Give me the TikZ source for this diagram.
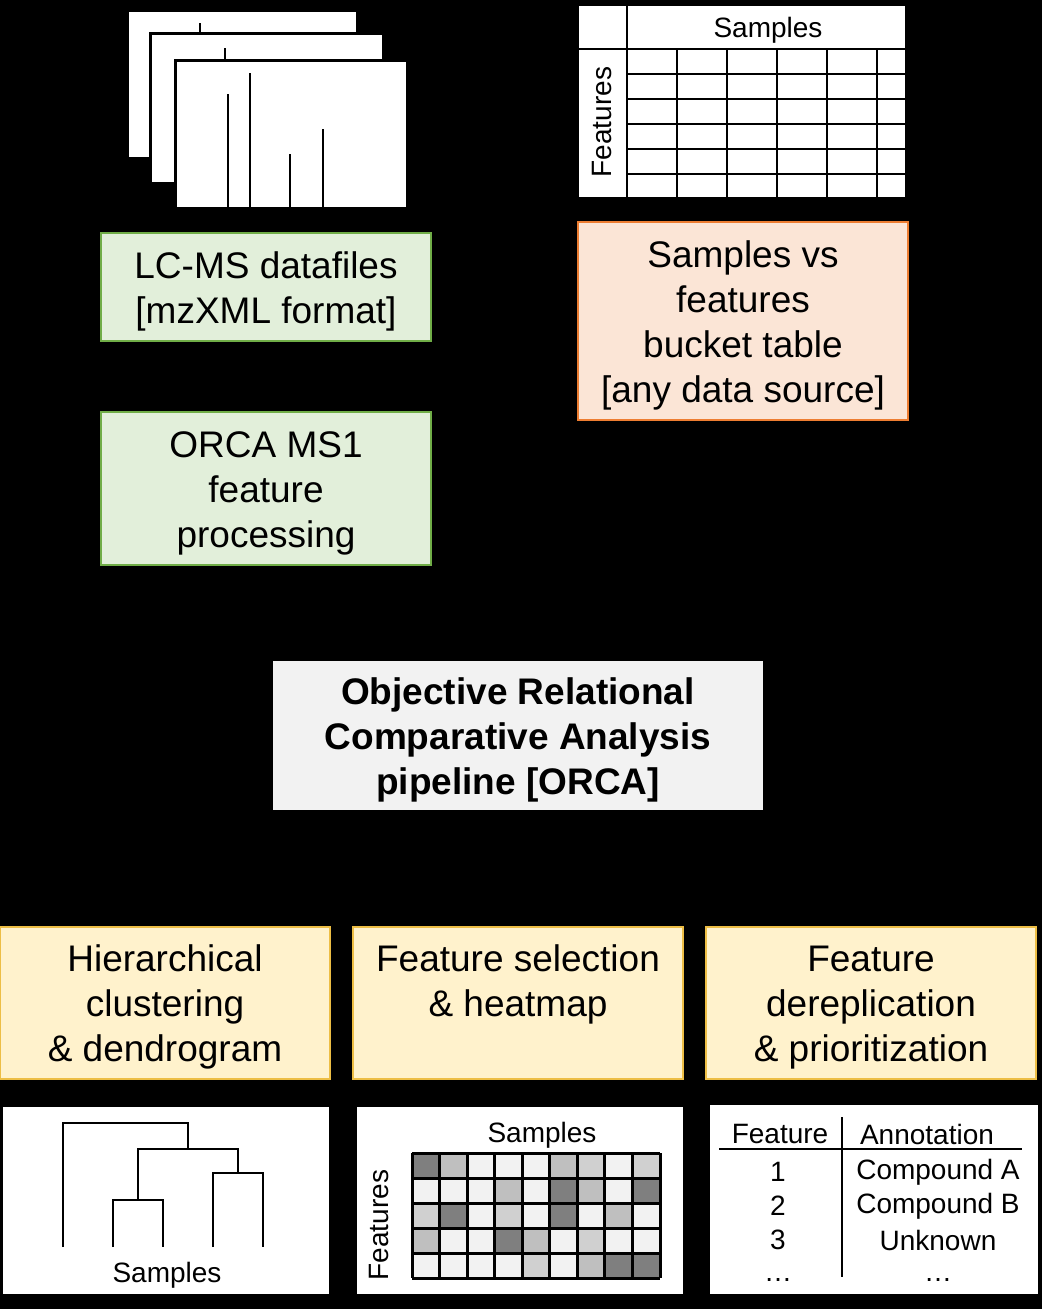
\documentclass[tikz,border=0pt]{standalone}
\usepackage{fontspec}
\setmainfont{Liberation Sans}
\usepackage{xcolor}
\usepackage{tikz}
\usetikzlibrary{arrows.meta}

\definecolor{lcgreen}{HTML}{70AD47}
\definecolor{lcgreenfill}{HTML}{E2EFDA}
\definecolor{tborange}{HTML}{ED7D31}
\definecolor{tborangefill}{HTML}{FBE5D6}
\definecolor{outgold}{HTML}{EDBE45}
\definecolor{outgoldfill}{HTML}{FFF2CC}
\definecolor{pipegray}{HTML}{F2F2F2}
\definecolor{hmdk}{HTML}{7F7F7F}
\definecolor{hmmd}{HTML}{BFBFBF}
\definecolor{hmlt}{HTML}{D0D0D0}
\definecolor{hmwh}{HTML}{F2F2F2}

% struts for the first and last line of box texts
\newcommand{\topstr}{\rule{0pt}{36pt}}
\newcommand{\botstr}{\rule[-9pt]{0pt}{9pt}}

\begin{document}
\begin{tikzpicture}[
  x=1pt, y=-1pt,
  >={Stealth[length=12pt,width=10pt]},
  line cap=butt,
  line join=miter,
  every node/.style={font=\fontsize{37}{45}\selectfont, align=center, inner sep=0pt},
  small/.style={font=\fontsize{28}{34}\selectfont},
  lcbox/.style={draw=lcgreen, fill=lcgreenfill, line width=2.5pt, minimum width=330pt},
  tbbox/.style={draw=tborange, fill=tborangefill, line width=2.5pt, minimum width=330pt},
  outbox/.style={draw=outgold, fill=outgoldfill, line width=2.5pt, minimum width=330pt, minimum height=152pt},
  panel/.style={fill=white, minimum height=187pt},
  flow/.style={->, line width=3pt, black}
]
  \useasboundingbox (0,0) rectangle (1042,1309);
  \fill[black] (0,0) rectangle (1042,1309);

  % Stacked spectra
  \filldraw[fill=white, draw=black, line width=3pt] (127,10) rectangle (357,158);
  \draw[line width=2pt] (200,23) -- (200,40);
  \filldraw[fill=white, draw=black, line width=3pt] (150,33) rectangle (383,183);
  \draw[line width=2pt] (225,48) -- (225,65);
  \filldraw[fill=white, draw=black, line width=3pt] (175,60) rectangle (407,208);
  \foreach \px/\py in {228/94, 250/73, 290/154, 323/129}{
    \draw[line width=2pt] (\px,\py) -- (\px,208);
  }

  % Bucket table sketch
  \fill[white] (579,6) rectangle (905,197);
  \draw[line width=2pt] (627,6) -- (627,197);
  \draw[line width=2pt] (579,49) -- (905,49);
  \foreach \gx in {677,727,777,827,877}{\draw[line width=2pt] (\gx,49) -- (\gx,197);}
  \foreach \gy in {74,99,124,149,174}{\draw[line width=2pt] (627,\gy) -- (905,\gy);}
  \node[small] (tbsamples) at (768,30) {Samples};
  \node[small, rotate=90] (tbfeatures) at (602,122) {Features};

  % Input boxes
  \node[lcbox, minimum height=108pt] (lcms) at (266,287) {\topstr LC-MS datafiles\\{}[mzXML format]\botstr};
  \node[lcbox, minimum height=153pt] (ms1) at (266,488.5) {\topstr ORCA MS1\\feature\\processing\botstr};
  \node[tbbox, minimum height=198pt] (bucket) at (743,321) {\topstr Samples vs\\features\\bucket table\\{}[any data source]\botstr};

  % Pipeline
  \node[fill=pipegray, minimum width=490pt, minimum height=149pt, font=\fontsize{37}{45}\selectfont\bfseries]
    (orca) at (518,735.5) {\topstr Objective Relational\\Comparative Analysis\\pipeline [ORCA]\botstr};

  % Outputs
  \node[outbox] (hclust) at (165,1003) {\topstr Hierarchical\\clustering\\\& dendrogram\botstr};
  \node[outbox] (fsel) at (518,1003) {\topstr Feature selection\\\& heatmap\\\botstr};
  \node[outbox] (fderep) at (871,1003) {\topstr Feature\\dereplication\\\& prioritization\botstr};

  \draw[flow] (lcms) -- (ms1);
  \draw[flow] (ms1.south) -- ++(0,40) -| ([xshift=-120pt]orca.north);
  \draw[flow] (bucket.south) -- ++(0,60) -| ([xshift=120pt]orca.north);
  \draw[flow] (orca.south) -- ++(0,55) -| (hclust.north);
  \draw[flow] (orca.south) -- (fsel.north);
  \draw[flow] (orca.south) -- ++(0,55) -| (fderep.north);

  % Dendrogram panel
  \node[panel, minimum width=326pt] (dpanel) at (166,1200.5) {};
  \draw[line width=2.5pt] (63,1247) |- (188,1123) -- (188,1149);
  \draw[line width=2.5pt] (138,1200) |- (238,1149) -- (238,1173);
  \draw[line width=2.5pt] (113,1247) |- (163,1200) -- (163,1247);
  \draw[line width=2.5pt] (213,1247) |- (263,1173) -- (263,1247);
  \node[small] (dsamples) at (167,1275) {Samples};

  % Heatmap panel
  \node[panel, minimum width=326pt] (hpanel) at (520,1200.5) {};
  \foreach \row [count=\r from 0] in {
      {hmdk,hmmd,hmwh,hmwh,hmwh,hmmd,hmlt,hmwh,hmlt},
      {hmwh,hmwh,hmwh,hmmd,hmwh,hmdk,hmmd,hmwh,hmdk},
      {hmlt,hmdk,hmwh,hmlt,hmwh,hmdk,hmwh,hmmd,hmwh},
      {hmmd,hmwh,hmwh,hmdk,hmmd,hmwh,hmlt,hmwh,hmwh},
      {hmwh,hmwh,hmwh,hmwh,hmlt,hmwh,hmmd,hmdk,hmdk}}{
    \foreach \cc [count=\k from 0] in \row {
      \fill[fill=\cc] (412+\k*27.56,1153+\r*25) rectangle ++(27.56,25);
    }
  }
  \foreach \k in {0,...,9}{\draw[line width=3pt] (412+\k*27.56,1153) -- ++(0,125);}
  \foreach \r in {0,...,5}{\draw[line width=3pt] (412,1153+\r*25) -- ++(248,0);}
  \node[small] (hsamples) at (542,1135) {Samples};
  \node[small, rotate=90] (hfeatures) at (379,1225) {Features};

  % Annotation panel
  \node[panel, minimum width=328pt, minimum height=189pt] (apanel) at (874,1199.5) {};
  \draw[line width=2pt] (719,1149) -- (1022,1149);
  \draw[line width=2pt] (842,1117) -- (842,1277);
  \node[small] (ahead1) at (780,1134) {Feature};
  \node[small] (ahead2) at (927,1134) {Annotation};
  \foreach \n/\lab/\ty in {1/Compound A/1172, 2/Compound B/1206, 3/Unknown/1240}{
    \node[small] at (778,\ty) {\n};
    \node[small] at (938,\ty) {\lab};
  }
  \node[small] (adots1) at (778,1280) {\dots};
  \node[small] (adots2) at (938,1280) {\dots};
\end{tikzpicture}
\end{document}
